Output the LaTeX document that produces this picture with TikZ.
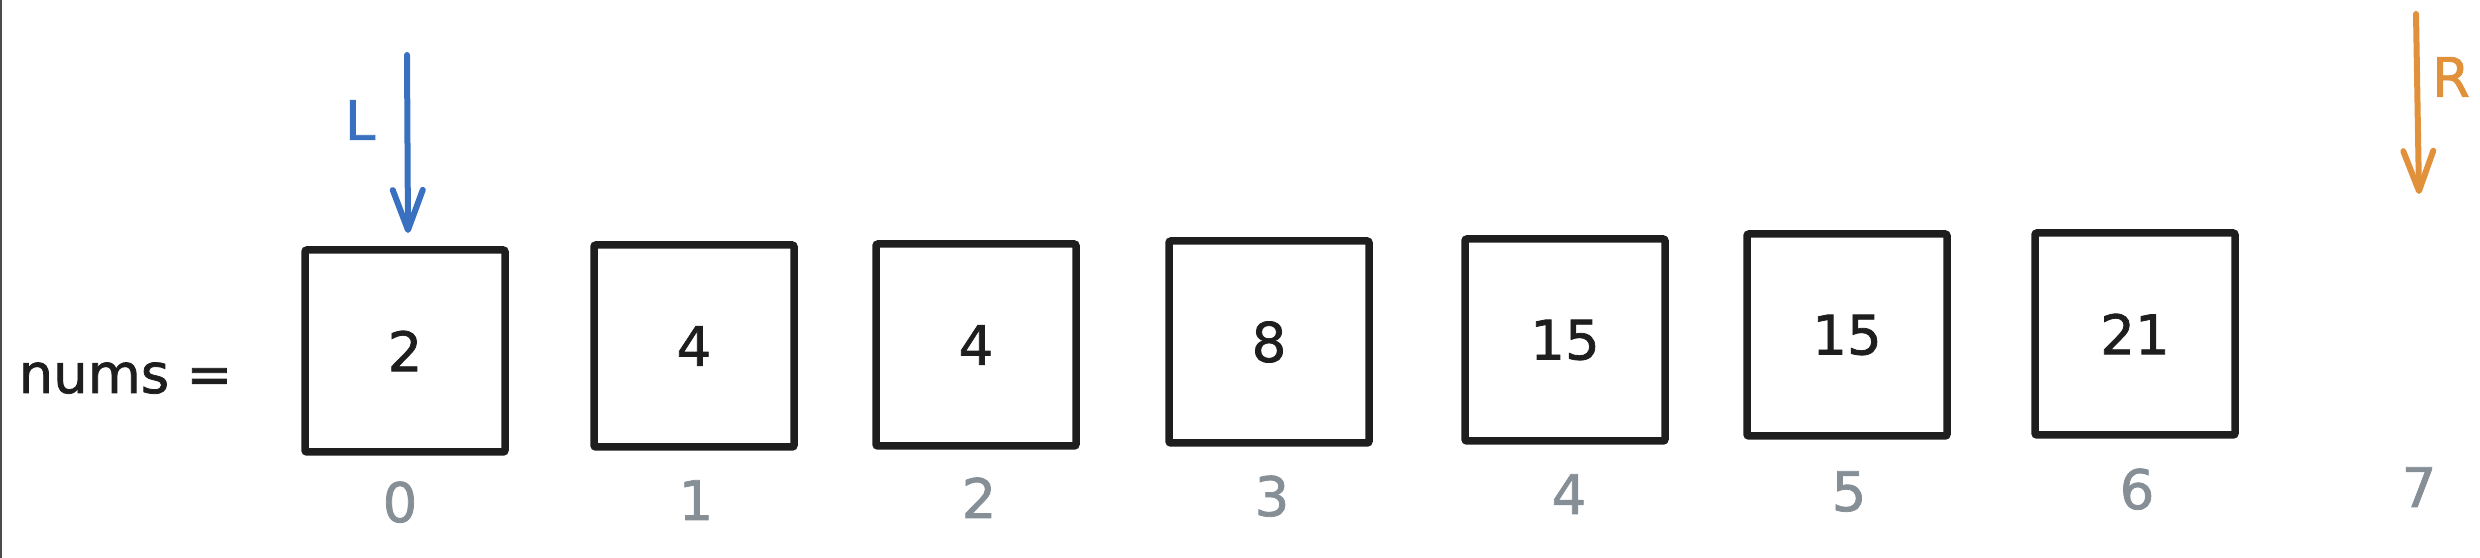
\documentclass[tikz,border=0pt]{standalone}
\usepackage{fontspec}
\setmainfont{DejaVu Sans}[AutoFakeBold=1.4]
\usetikzlibrary{arrows.meta}
\definecolor{ink}{HTML}{1E1E1E}
\definecolor{lblue}{HTML}{3A70C0}
\definecolor{rorange}{HTML}{E0913A}
\definecolor{idxgray}{HTML}{868E96}
\tikzset{
	numbox/.style={draw=ink, line width=0.75mm, minimum width=20mm, minimum height=20.2mm, inner sep=0, rounded corners=0.2mm, text=ink},
	idx/.style={text=idxgray, anchor=base, inner sep=0},
	ptr/.style={line width=0.6mm, line cap=round, -{Straight Barb[length=4mm, width=3mm, round]}},
}
\begin{document}
\begin{tikzpicture}[x=0.1mm, y=-0.1mm, font=\fontsize{15.5}{18}\selectfont\bfseries]
	\useasboundingbox (0,0) rectangle (2480,558);
	\draw[ink!80, line width=0.12mm] (1,0) -- (1,558);
	\node[anchor=base west, inner sep=0, text=ink] (nums) at (18,393) {nums =};
	% array cells
	\node[numbox] (N0) at (405,351) {2};
	\node[numbox] (N1) at (694,346) {4};
	\node[numbox] (N2) at (976,345) {4};
	\node[numbox] (N3) at (1269,342) {8};
	\node[numbox] (N4) at (1565,340) {15};
	\node[numbox] (N5) at (1847,335) {15};
	\node[numbox] (N6) at (2135,334) {21};
	% indices
	\node[idx] (I0) at (400,522) {0};
	\node[idx] (I1) at (696,520) {1};
	\node[idx] (I2) at (979,518) {2};
	\node[idx] (I3) at (1272,516) {3};
	\node[idx] (I4) at (1569,514) {4};
	\node[idx] (I5) at (1849,511) {5};
	\node[idx] (I6) at (2137,509) {6};
	\node[idx] (I7) at (2419,507) {7};
	% pointers
	\node[text=lblue, inner sep=0] (L) at (360,120) {L};
	\coordinate (LS) at (407,55);
	\coordinate (LE) at (408,233);
	\draw[ptr, lblue] (LS) -- (LE);
	\node[text=rorange, inner sep=0] (R) at (2451,77) {R};
	\coordinate (RS) at (2416,14);
	\coordinate (RE) at (2419,194);
	\draw[ptr, rorange] (RS) -- (RE);
\end{tikzpicture}
\end{document}
